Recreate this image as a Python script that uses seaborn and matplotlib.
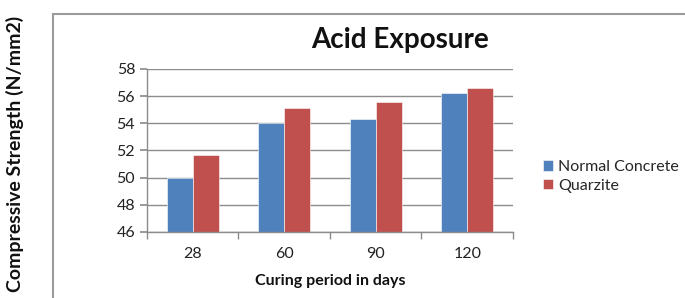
import pandas as pd
import matplotlib.pyplot as plt
import seaborn as sns
from matplotlib.lines import Line2D

# Dados
curing_days = ["28", "60", "90", "120"]
normal_concrete = [50.0, 54.0, 54.3, 56.2]
quarzite = [51.7, 55.1, 55.6, 56.6]
series_names = ["Normal Concrete", "Quarzite"]

sns.set_theme(style="white")
plt.rcParams["font.family"] = ["Lato", "DejaVu Sans"]

data = pd.DataFrame({
    "days": curing_days * 2,
    "strength": normal_concrete + quarzite,
    "series": [series_names[0]] * 4 + [series_names[1]] * 4,
})

fig = plt.figure(figsize=(6.85, 2.98), dpi=100)
ax = fig.add_axes([0.2146, 0.2215, 0.5343, 0.547])

sns.barplot(data=data, x="days", y="strength", hue="series",
            palette=["#4F81BD", "#C0504D"], saturation=1, width=0.57,
            edgecolor="white", linewidth=0.4, ax=ax)

ax.set_ylim(46, 58)
ax.set_yticks(range(46, 59, 2))
ax.set_xlim(-0.5, 3.5)
ax.yaxis.grid(True, color="#8c8c8c", linewidth=1)
ax.set_axisbelow(True)
for side in ["top", "right"]:
    ax.spines[side].set_visible(False)
for side in ["left", "bottom"]:
    ax.spines[side].set_color("#8c8c8c")
    ax.spines[side].set_linewidth(1)

ax.set_xticks([-0.5, 0.5, 1.5, 2.5, 3.5], minor=True)
ax.tick_params(axis="x", which="major", length=0, pad=11, labelsize=11.5, colors="#222222")
ax.tick_params(axis="x", which="minor", length=5, color="#8c8c8c", direction="out", bottom=True)
ax.tick_params(axis="y", length=5, color="#8c8c8c", direction="out", left=True,
               labelsize=11.5, labelcolor="#222222")

ax.set_xlabel("Curing period in days", fontsize=11.5, fontweight="bold", labelpad=9, color="#111111")
ax.set_ylabel("")

# título centrado na área do gráfico
fig.text(400 / 685, 1 - 40 / 298, "Acid Exposure", ha="center", va="center",
         fontsize=20, fontweight="bold", color="#111111")

handles, labels = ax.get_legend_handles_labels()
ax.legend(handles, labels, loc="center left", bbox_to_anchor=(1.065, 0.34), frameon=False,
          fontsize=11.5, handlelength=0.6, handleheight=0.6, handletextpad=0.35,
          labelspacing=0.3, borderaxespad=0)

fig.text(0.022, 0.485, "Compressive Strength (N/mm2)", rotation=90, ha="center", va="center",
         fontsize=14, fontweight="bold", color="#111111")

# moldura do gráfico
fig.add_artist(Line2D([53 / 685, 53 / 685], [0, 1 - 14 / 298], color="#9a9a9a", linewidth=1.5,
                      transform=fig.transFigure))
fig.add_artist(Line2D([53 / 685, 1], [1 - 14 / 298, 1 - 14 / 298], color="#9a9a9a", linewidth=1.5,
                      transform=fig.transFigure))

fig.savefig("out.png", dpi=100)
